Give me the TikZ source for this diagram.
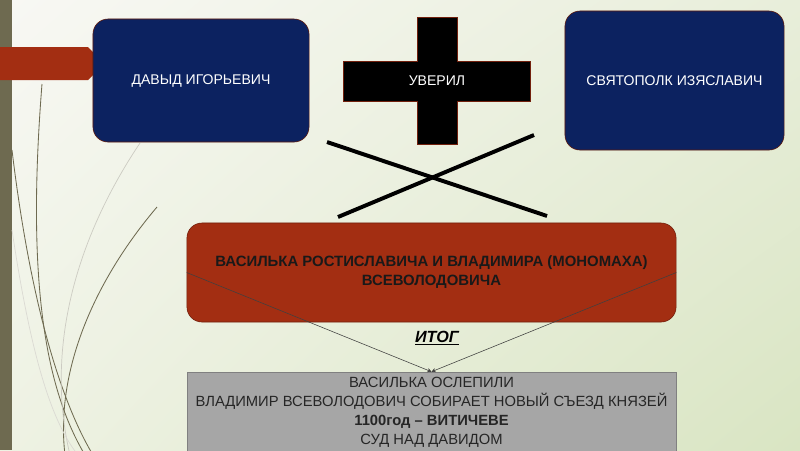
\documentclass[tikz,border=0pt]{standalone}
\usepackage{fontspec}
\setmainfont{Liberation Sans}
\usetikzlibrary{arrows.meta,shadings}
\definecolor{navy}{HTML}{0C2260}
\definecolor{rust}{HTML}{A32E12}
\definecolor{olive}{HTML}{6E6A50}
\definecolor{bgA}{HTML}{F8F8F4}
\definecolor{bgB}{HTML}{E8EEDA}
\definecolor{bgC}{HTML}{EEF2E3}
\definecolor{bgD}{HTML}{D9E5C3}
\begin{document}
\begin{tikzpicture}[x=0.025cm,y=-0.025cm]
			\tikzstyle{prince}=[draw=rust!60!black, fill=navy, rounded corners=0.375cm, text=white, font=\fontsize{10}{12}\selectfont]
			\tikzstyle{victim}=[draw=rust!70!black, fill=rust, rounded corners=0.375cm, text=black!90, align=center, font=\bfseries\fontsize{10.6}{13.5}\selectfont]
			\tikzstyle{outcome}=[draw=black!50, fill=black!35, text=black!85, align=center, font=\fontsize{10.5}{13.5}\selectfont]
			\tikzstyle{conn}=[draw=black!75, line width=0.4pt, -{Stealth[length=3pt,width=3pt]}]
			% background
			\useasboundingbox (0,0) rectangle (800,450);
			\shade[upper left=bgA, upper right=bgB, lower left=bgC, lower right=bgD] (0,0) rectangle (800,450);
			\fill[olive] (0,0) rectangle (12,450);
			\draw[olive, line width=0.6pt] (42,84) .. controls (28,260) and (40,380) .. (85,455);
			\draw[olive, line width=0.6pt] (12,150) .. controls (30,300) and (60,400) .. (93,455);
			\draw[olive, line width=0.6pt] (157,207) .. controls (95,280) and (55,370) .. (65,455);
			\draw[olive!35, line width=0.5pt] (140,143) .. controls (75,240) and (45,350) .. (70,455);
			\draw[olive!25, line width=0.5pt] (12,230) .. controls (30,350) and (50,420) .. (78,455);
			\fill[rust] (0,47) -- (88,47) -- (96,55) -- (96,72) -- (88,80) -- (0,80) -- cycle;
			% cross and X
			\filldraw[fill=black, draw=rust!70!black] (417,17) -- (457,17) -- (457,61) -- (530,61) -- (530,101) -- (457,101) -- (457,144) -- (417,144) -- (417,101) -- (343,101) -- (343,61) -- (417,61) -- cycle;
			\draw[line width=2.8pt] (327,142) -- (547,216);
			\draw[line width=2.8pt] (338,217) -- (534,135);
			% nodes
			\node[text=white, font=\fontsize{10}{12}\selectfont] (uveril) at (437,81) {УВЕРИЛ};
			\node[prince, minimum width=5.4cm, minimum height=3.075cm] (davyd) at (201,80.5) {ДАВЫД ИГОРЬЕВИЧ};
			\node[prince, minimum width=5.475cm, minimum height=3.475cm] (svyatopolk) at (674.5,80.5) {СВЯТОПОЛК ИЗЯСЛАВИЧ};
			\node[victim, minimum width=12.225cm, minimum height=2.475cm] (vasilko) at (431.5,272.5) {ВАСИЛЬКА РОСТИСЛАВИЧА И ВЛАДИМИРА (МОНОМАХА)\\ВСЕВОЛОДОВИЧА};
			\node[outcome, minimum width=12.225cm, minimum height=2cm] (result) at (431.5,412) {ВАСИЛЬКА ОСЛЕПИЛИ\\ВЛАДИМИР ВСЕВОЛОДОВИЧ СОБИРАЕТ НОВЫЙ СЪЕЗД КНЯЗЕЙ\\\textbf{1100год – ВИТИЧЕВЕ}\\СУД НАД ДАВИДОМ};
			\node[font=\bfseries\itshape\fontsize{11.5}{13}\selectfont] (itog) at (437,338) {\underline{ИТОГ}};
			% connectors
			\draw[conn] (vasilko.west) -- (result.north);
			\draw[conn] (vasilko.east) -- (result.north);
		\end{tikzpicture}
\end{document}
